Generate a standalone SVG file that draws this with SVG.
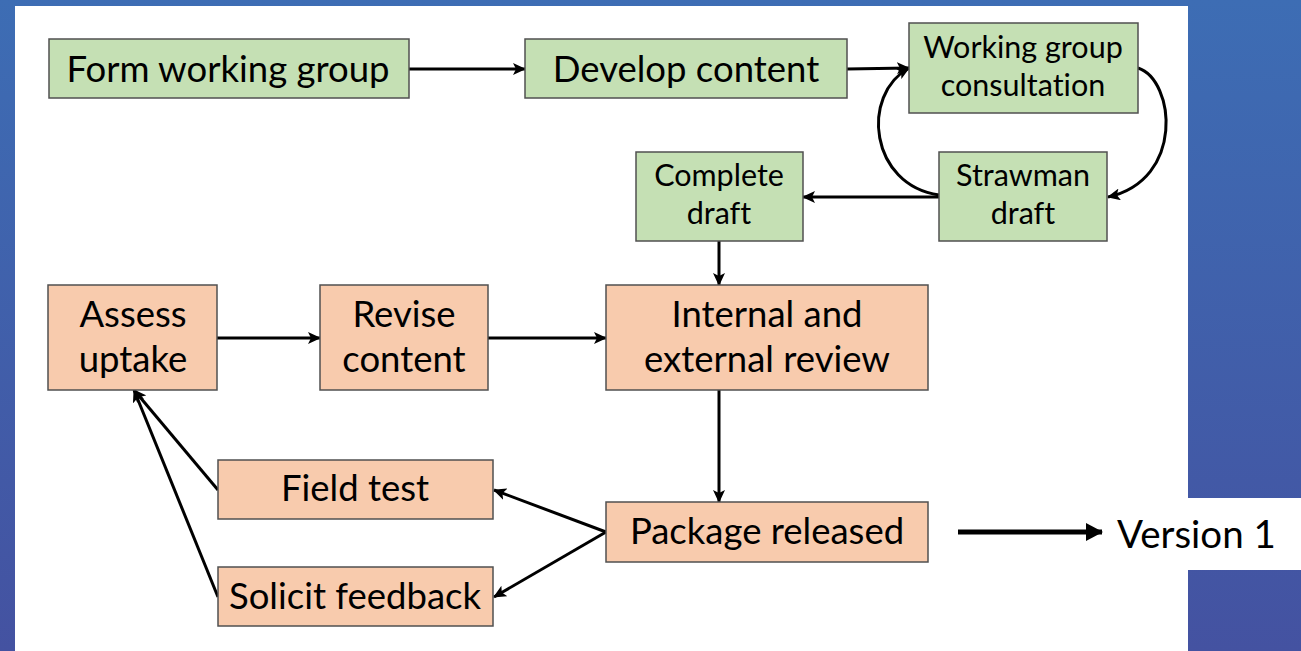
<svg xmlns="http://www.w3.org/2000/svg" width="1301" height="651" viewBox="0 0 1301 651">
<defs>
<linearGradient id="bg" x1="0" y1="0" x2="0" y2="1">
<stop offset="0" stop-color="#3d6db4"/>
<stop offset="1" stop-color="#4452a1"/>
</linearGradient>
<marker id="ah" markerUnits="userSpaceOnUse" markerWidth="14" markerHeight="12" refX="12" refY="6" orient="auto">
<path d="M0,0 L13,6 L0,12 L3,6 z" fill="#000"/>
</marker>
<marker id="ahBig" markerUnits="userSpaceOnUse" markerWidth="18" markerHeight="18" refX="16" refY="9" orient="auto">
<path d="M0,0 L17,9 L0,18 z" fill="#000"/>
</marker>
<style>
.g{fill:#c5e0b4;stroke:#505050;stroke-width:1.5}
.o{fill:#f8cbad;stroke:#505050;stroke-width:1.5}
text{font-family:"Lato","Open Sans","Liberation Sans",sans-serif;fill:#000;text-anchor:middle;font-variant-ligatures:none;font-feature-settings:"liga" 0}
.t1{font-size:36.5px}
.t2{font-size:36.5px}
.t3{font-size:30.5px}
.t4{font-size:38.5px;text-anchor:start}
.c{fill:none;stroke:#000;stroke-width:3;marker-end:url(#ah)}
</style>
</defs>
<rect x="0" y="0" width="1301" height="651" fill="url(#bg)"/>
<rect x="15" y="6" width="1173" height="645" fill="#fff"/>
<rect x="1188" y="498" width="113" height="72" fill="#fff"/>

<g id="connectors">
<line class="c" x1="409" y1="69" x2="525" y2="69"/>
<line class="c" x1="847" y1="69" x2="909" y2="68"/>
<path class="c" d="M1138,68 C1175,80 1185,180 1108,197"/>
<path class="c" d="M939,195 C870,185 860,95 909,68"/>
<line class="c" x1="939" y1="197" x2="803" y2="197"/>
<line class="c" x1="719" y1="241" x2="719" y2="285"/>
<line class="c" x1="217" y1="338" x2="320" y2="338"/>
<line class="c" x1="488" y1="338" x2="606" y2="338"/>
<line class="c" x1="719" y1="390" x2="719" y2="502"/>
<line class="c" x1="606" y1="532" x2="494" y2="490"/>
<line class="c" x1="606" y1="532" x2="494" y2="597"/>
<line class="c" x1="218" y1="490" x2="134" y2="390"/>
<line class="c" x1="218" y1="597" x2="134" y2="390"/>
<line x1="958" y1="532" x2="1102" y2="532" stroke="#000" stroke-width="5" marker-end="url(#ahBig)"/>
</g>

<g id="form-working-group">
<rect class="g" x="49" y="39" width="360" height="59"/>
<text class="t1" x="228" y="82">Form working group</text>
</g>
<g id="develop-content">
<rect class="g" x="525" y="39" width="322" height="59"/>
<text class="t1" x="686" y="82">Develop content</text>
</g>
<g id="working-group-consultation">
<rect class="g" x="909" y="23" width="229" height="90"/>
<text class="t3" x="1023" y="58">Working group</text>
<text class="t3" x="1023" y="96">consultation</text>
</g>
<g id="strawman-draft">
<rect class="g" x="939" y="152" width="168" height="89"/>
<text class="t3" x="1023" y="186">Strawman</text>
<text class="t3" x="1023" y="224">draft</text>
</g>
<g id="complete-draft">
<rect class="g" x="636" y="152" width="167" height="89"/>
<text class="t3" x="719" y="186">Complete</text>
<text class="t3" x="719" y="224">draft</text>
</g>
<g id="assess-uptake">
<rect class="o" x="48" y="285" width="169" height="105"/>
<text class="t2" x="133" y="327">Assess</text>
<text class="t2" x="133" y="372">uptake</text>
</g>
<g id="revise-content">
<rect class="o" x="320" y="285" width="168" height="105"/>
<text class="t2" x="404" y="327">Revise</text>
<text class="t2" x="404" y="372">content</text>
</g>
<g id="internal-external-review">
<rect class="o" x="606" y="285" width="322" height="105"/>
<text class="t2" x="767" y="327">Internal and</text>
<text class="t2" x="767" y="372">external review</text>
</g>
<g id="field-test">
<rect class="o" x="218" y="460" width="275" height="59"/>
<text class="t2" x="355" y="501">Field test</text>
</g>
<g id="solicit-feedback">
<rect class="o" x="218" y="567" width="275" height="59"/>
<text class="t2" x="355" y="609">Solicit feedback</text>
</g>
<g id="package-released">
<rect class="o" x="606" y="502" width="322" height="60"/>
<text class="t2" x="767" y="544">Package released</text>
</g>
<g id="version-1">
<text class="t4" x="1117" y="548">Version 1</text>
</g>
</svg>
